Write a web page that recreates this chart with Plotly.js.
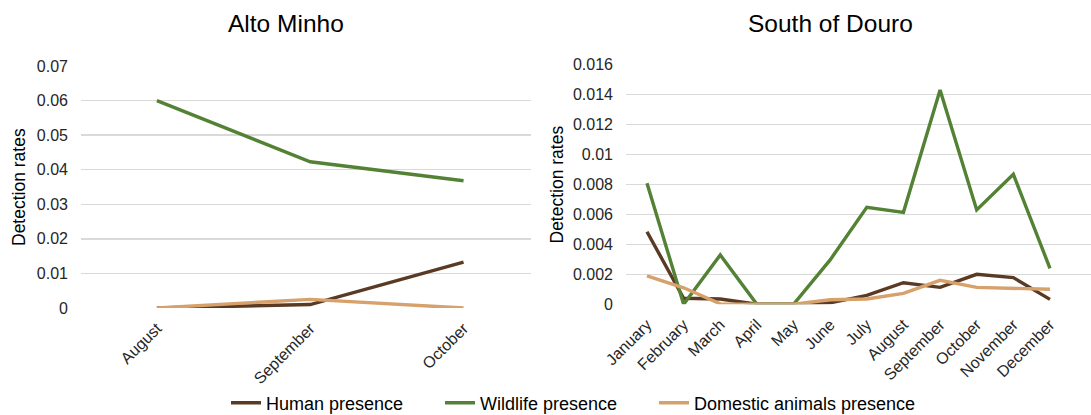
<!DOCTYPE html>
<html><head><meta charset="utf-8">
<script src="https://cdn.plot.ly/plotly-3.0.1.min.js"></script>
<style>body{margin:0;padding:0;background:#fff}#chart{width:1091px;height:415px}</style>
</head><body><div id="chart"></div>
<script>
const altoMonths = ["August", "September", "October"];
const altoHuman = [0, 0.001, 0.0133];
const altoWildlife = [0.060, 0.0423, 0.0368];
const altoDomestic = [0, 0.0025, 0];

const douroMonths = ["January","February","March","April","May","June","July","August","September","October","November","December"];
const douroHuman = [0.00484, 0.0004, 0.00035, 0, 0, 0.0001, 0.0006, 0.00144, 0.00113, 0.0020, 0.00178, 0.00033];
const douroWildlife = [0.00807, 0, 0.00329, 0, 0, 0.00296, 0.00647, 0.00613, 0.01429, 0.00629, 0.00867, 0.0024];
const douroDomestic = [0.00189, 0.0011, 0.00003, 0, 0, 0.0003, 0.00035, 0.00073, 0.0016, 0.00113, 0.00107, 0.001];

const seriesNames = ["Human presence", "Wildlife presence", "Domestic animals presence"];
const colors = ["#5b3a23", "#548235", "#d6a16b"];
const legendIds = ["legend", "legend2", "legend3"];

const W = 1091, H = 415;
const FONT = "Liberation Sans, Arial, sans-serif";

function tr(x, y, i, xa, ya, show) {
  return {x: x, y: y, type: "scatter", mode: "lines", name: seriesNames[i],
    line: {color: colors[i], width: 3.4}, xaxis: xa, yaxis: ya, showlegend: show,
    legend: legendIds[i], hoverinfo: "x+y"};
}
const data = [
  tr(altoMonths, altoHuman, 0, "x", "y", true),
  tr(altoMonths, altoWildlife, 1, "x", "y", true),
  tr(altoMonths, altoDomestic, 2, "x", "y", true),
  tr(douroMonths, douroHuman, 0, "x2", "y2", false),
  tr(douroMonths, douroWildlife, 1, "x2", "y2", false),
  tr(douroMonths, douroDomestic, 2, "x2", "y2", false)
];

const tickFont = {family: FONT, size: 16, color: "#262626"};
const xCommon = {type: "category", showgrid: false, zeroline: false, showline: false,
  tickangle: -45, tickfont: tickFont, ticks: "", ticklabelstandoff: 7, automargin: false, fixedrange: true};
const yCommon = {showgrid: true, gridcolor: "#d9d9d9", gridwidth: 1.5, zeroline: false, showline: false,
  tickfont: tickFont, ticks: "", ticklabelstandoff: 12, automargin: false, fixedrange: true};

const px = v => v / W, py = v => (H - v) / H;

function legendAt(xLeft) {
  return {orientation: "h", x: px(xLeft), xanchor: "left", y: py(403), yanchor: "middle",
    font: {family: FONT, size: 18, color: "#000"}, bgcolor: "rgba(0,0,0,0)", borderwidth: 0, itemwidth: 30};
}

const layout = {
  width: W, height: H,
  margin: {l: 0, r: 0, t: 0, b: 0, autoexpand: false},
  paper_bgcolor: "#fff", plot_bgcolor: "#fff",
  font: {family: FONT, color: "#000"},
  xaxis: Object.assign({}, xCommon, {domain: [px(81), px(531)], range: [-0.495, 2.44], anchor: "y"}),
  yaxis: Object.assign({}, yCommon, {domain: [py(308), py(66)], range: [0, 0.07], dtick: 0.01, anchor: "x"}),
  xaxis2: Object.assign({}, xCommon, {domain: [px(626), 1], range: [-0.573, 12.12], anchor: "y2"}),
  yaxis2: Object.assign({}, yCommon, {domain: [py(304.3), py(64.3)], range: [0, 0.016], dtick: 0.002, anchor: "x2"}),
  showlegend: true,
  legend: legendAt(226),
  legend2: legendAt(440),
  legend3: legendAt(654),
  annotations: [
    {text: "Alto Minho", x: px(285.5), y: py(23), xref: "paper", yref: "paper", showarrow: false,
      xanchor: "center", yanchor: "middle", font: {family: FONT, size: 24.5, color: "#000"}},
    {text: "South of Douro", x: px(830.5), y: py(23), xref: "paper", yref: "paper", showarrow: false,
      xanchor: "center", yanchor: "middle", font: {family: FONT, size: 24.5, color: "#000"}},
    {text: "Detection rates", x: px(19.5), y: py(187.5), xref: "paper", yref: "paper", showarrow: false,
      textangle: -90, xanchor: "center", yanchor: "middle", font: {family: FONT, size: 17.5, color: "#000"}},
    {text: "Detection rates", x: px(557), y: py(184.5), xref: "paper", yref: "paper", showarrow: false,
      textangle: -90, xanchor: "center", yanchor: "middle", font: {family: FONT, size: 17.5, color: "#000"}}
  ]
};
Plotly.newPlot("chart", data, layout, {displayModeBar: false, staticPlot: true});
</script></body></html>
